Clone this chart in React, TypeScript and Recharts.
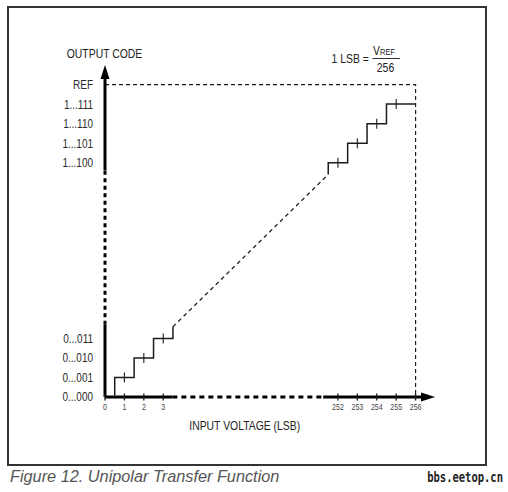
import React from 'react';
import { ComposedChart, Line, XAxis, YAxis, Scatter } from 'recharts';

// Broken axes: lower range 0..4 LSB / codes 0..4, upper range 252..256 (shifted by 240 on the chart scale)
const BREAK_SHIFT = 240;
const toAxis = (v: number) => (v > 100 ? v - BREAK_SHIFT : v);
const fromAxis = (v: number) => (v > 8 ? v + BREAK_SHIFT : v);

const inputTicks = [0, 1, 2, 3, 252, 253, 254, 255, 256];
const codeTicks = [0, 1, 2, 3, 252, 253, 254, 255, 256];
const codeLabels = ['0...000', '0...001', '0...010', '0...011', '1...100', '1...101', '1...110', '1...111', 'REF'];

// transfer function, lower steps
const lowStepIn = [0.5, 0.5, 1.5, 1.5, 2.5, 2.5, 3.5, 3.5];
const lowStepCode = [0, 1, 1, 2, 2, 3, 3, 3.6];
// dashed continuation across the break
const midIn = [3.5, 251.5];
const midCode = [3.6, 251.4];
// upper steps
const highStepIn = [251.5, 251.5, 252.5, 252.5, 253.5, 253.5, 254.5, 254.5, 256];
const highStepCode = [251.4, 252, 252, 253, 253, 254, 254, 255, 255];
// code-centre marks
const centerIn = [1, 2, 3, 252, 253, 254, 255];
const centerCode = [1, 2, 3, 252, 253, 254, 255];
// full-scale reference (dashed)
const refIn = [0, 256, 256];
const refCode = [256, 256, 0];

// axes drawn as broken lines
const xAxisSolidA = [0, 3.47];
const xAxisDash = [3.47, 251.24];
const xAxisSolidB = [251.24, 256.4];
const yAxisSolidA = [0, 3.7];
const yAxisDash = [3.7, 251.6];
const yAxisSolidB = [251.6, 256.4];
const arrowTip = 257;

const pts = (xs: number[], ys: number[]) => xs.map((v, i) => ({ x: toAxis(v), y: toAxis(ys[i]) }));
const hSeg = (xs: number[]) => xs.map((v) => ({ x: toAxis(v), y: 0 }));
const vSeg = (ys: number[]) => ys.map((v) => ({ x: 0, y: toAxis(v) }));

// layout: origin at (105, 397), 19.41 px per LSB horizontally, 19.53 px per code vertically
const DOMAIN: [number, number] = [-0.5, 17.5];
const PLOT_LEFT = 95.3;
const PLOT_RIGHT = 444.7;
const PLOT_TOP = 55.3;
const PLOT_BOTTOM = 406.76;

const INK = '#1c1c1c';
const FONT = '"Liberation Sans", Arial, Helvetica, sans-serif';
const SX = 0.8;

const XTick = (props: any) => {
  const { x, y, payload } = props;
  return (
    <g transform={`translate(${x},${y + 2.8}) scale(0.78,1)`}>
      <text x={0} y={0} textAnchor="middle" fontSize={9} fill="#444" fontFamily={FONT}>
        {String(fromAxis(payload.value))}
      </text>
    </g>
  );
};

const YTick = (props: any) => {
  const { x, y, payload } = props;
  const idx = codeTicks.map(toAxis).indexOf(payload.value);
  return (
    <g transform={`translate(${x - 2.3},${y + 4.4}) scale(${SX},1)`}>
      <text x={0} y={0} textAnchor="end" fontSize={12.5} fill="#2a2a2a" fontFamily={FONT}>
        {idx >= 0 ? codeLabels[idx] : ''}
      </text>
    </g>
  );
};

const axisMark = (props: any) => {
  const { cx, cy } = props;
  return <line x1={cx} x2={cx} y1={cy - 3.5} y2={cy + 3.5} stroke={INK} strokeWidth={1.3} />;
};
const stepMark = (props: any) => {
  const { cx, cy } = props;
  return <line x1={cx} x2={cx} y1={cy - 5} y2={cy + 5} stroke={INK} strokeWidth={1.1} />;
};
const arrowRight = (props: any) => {
  const { cx, cy } = props;
  return <polygon points={`${cx},${cy} ${cx - 14},${cy - 4.5} ${cx - 14},${cy + 4.5}`} fill="#000" />;
};
const arrowUp = (props: any) => {
  const { cx, cy } = props;
  return <polygon points={`${cx},${cy} ${cx - 4.5},${cy + 14} ${cx + 4.5},${cy + 14}`} fill="#000" />;
};

export default function App() {
  return (
    <div style={{ position: 'absolute', left: 0, top: 0, width: 508, height: 492, background: '#fff' }}>
      <div style={{ position: 'absolute', left: 0, top: 0 }}>
        <ComposedChart
          width={508}
          height={492}
          margin={{ top: PLOT_TOP, right: 508 - PLOT_RIGHT, bottom: 0, left: 0 }}
        >
          <XAxis
            type="number"
            dataKey="x"
            domain={DOMAIN}
            allowDataOverflow
            ticks={inputTicks.map(toAxis)}
            tick={<XTick />}
            axisLine={false}
            tickLine={false}
            tickSize={0}
            tickMargin={0}
            height={492 - PLOT_BOTTOM}
            interval={0}
          />
          <YAxis
            type="number"
            dataKey="y"
            domain={DOMAIN}
            allowDataOverflow
            ticks={codeTicks.map(toAxis)}
            tick={<YTick />}
            axisLine={false}
            tickLine={false}
            tickSize={0}
            tickMargin={0}
            width={PLOT_LEFT}
            interval={0}
          />
          {/* reference dashed box */}
          <Line data={pts(refIn, refCode)} dataKey="y" stroke={INK} strokeWidth={1.2} strokeDasharray="4 3" dot={false} isAnimationActive={false} />
          {/* axes */}
          <Line data={hSeg(xAxisSolidA)} dataKey="y" stroke="#000" strokeWidth={3} dot={false} isAnimationActive={false} />
          <Line data={hSeg(xAxisDash)} dataKey="y" stroke="#000" strokeWidth={3} strokeDasharray="5 4" dot={false} isAnimationActive={false} />
          <Line data={hSeg(xAxisSolidB)} dataKey="y" stroke="#000" strokeWidth={3} dot={false} isAnimationActive={false} />
          <Line data={vSeg(yAxisSolidA)} dataKey="y" stroke="#000" strokeWidth={3} dot={false} isAnimationActive={false} />
          <Line data={vSeg(yAxisDash)} dataKey="y" stroke="#000" strokeWidth={3} strokeDasharray="4 3.5" dot={false} isAnimationActive={false} />
          <Line data={vSeg(yAxisSolidB)} dataKey="y" stroke="#000" strokeWidth={3} dot={false} isAnimationActive={false} />
          {/* transfer function */}
          <Line data={pts(lowStepIn, lowStepCode)} dataKey="y" stroke={INK} strokeWidth={1.5} dot={false} isAnimationActive={false} />
          <Line data={pts(midIn, midCode)} dataKey="y" stroke={INK} strokeWidth={1.3} strokeDasharray="4 3.5" dot={false} isAnimationActive={false} />
          <Line data={pts(highStepIn, highStepCode)} dataKey="y" stroke={INK} strokeWidth={1.5} dot={false} isAnimationActive={false} />
          {/* marks */}
          <Scatter data={inputTicks.map((v) => ({ x: toAxis(v), y: 0 }))} shape={axisMark} isAnimationActive={false} />
          <Scatter data={pts(centerIn, centerCode)} shape={stepMark} isAnimationActive={false} />
          <Scatter data={[{ x: toAxis(arrowTip), y: 0 }]} shape={arrowRight} isAnimationActive={false} />
          <Scatter data={[{ x: 0, y: toAxis(arrowTip) }]} shape={arrowUp} isAnimationActive={false} />
        </ComposedChart>
      </div>
      <svg width={508} height={492} style={{ position: 'absolute', left: 0, top: 0, pointerEvents: 'none' }}>
        <rect x={8} y={7} width={478} height={458} fill="none" stroke="#333" strokeWidth={2} />
        <g fontFamily={FONT} fill="#222" fontSize={13}>
          <text transform={`translate(104.5,57.5) scale(${SX},1)`} textAnchor="middle">OUTPUT CODE</text>
          <text transform={`translate(244.7,429.7) scale(${SX},1)`} textAnchor="middle">INPUT VOLTAGE (LSB)</text>
          <text transform={`translate(331.5,62.8) scale(${SX},1)`} textAnchor="start">1 LSB =</text>
          <text transform={`translate(373,54.5) scale(${SX},1)`} textAnchor="start">
            V<tspan fontSize={9.5}>REF</tspan>
          </text>
          <line x1={372.5} x2={400} y1={58.5} y2={58.5} stroke="#333" strokeWidth={1} />
          <text transform={`translate(385.5,71.8) scale(${SX},1)`} textAnchor="middle">256</text>
        </g>
        <text x={10} y={482} fontFamily={FONT} fontStyle="italic" fontSize={16.3} fill="#555">
          Figure 12. Unipolar Transfer Function
        </text>
        <text
          transform="translate(503,482) scale(0.75,1)"
          textAnchor="end"
          fontFamily='"DejaVu Sans Mono", monospace'
          fontWeight="bold"
          fontSize={14}
          fill="#222"
        >
          bbs.eetop.cn
        </text>
      </svg>
    </div>
  );
}
